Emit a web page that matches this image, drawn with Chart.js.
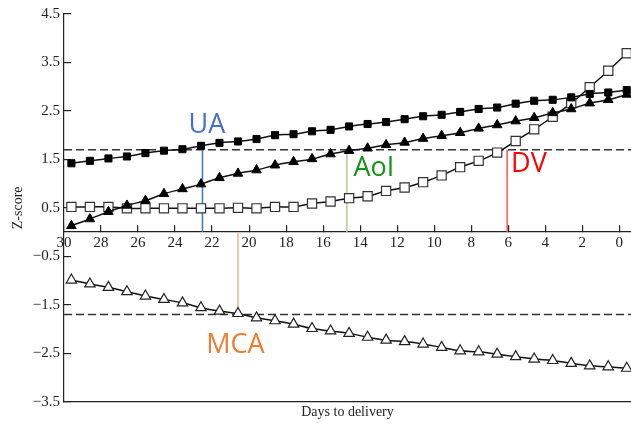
<!DOCTYPE html>
<html>
<head>
<meta charset="utf-8">
<script src="https://cdn.jsdelivr.net/npm/chart.js@4.4.1/dist/chart.umd.min.js"></script>
<style>
  body { margin: 0; background: #fff; }
  #wrap { width: 631px; height: 424px; position: relative; }
</style>
</head>
<body>
<div id="wrap"><canvas id="zchart"></canvas></div>
<script>
// days to delivery where each measurement sits
var days = [29.6, 28.6, 27.6, 26.6, 25.6, 24.6, 23.6, 22.6, 21.6, 20.6,
            19.6, 18.6, 17.6, 16.6, 15.6, 14.6, 13.6, 12.6, 11.6, 10.6,
            9.6, 8.6, 7.6, 6.6, 5.6, 4.6, 3.6, 2.6, 1.6, 0.6, -0.4];

var uaZ  = [1.42, 1.47, 1.52, 1.56, 1.63, 1.68, 1.71, 1.78, 1.84, 1.87,
            1.92, 2.00, 2.02, 2.08, 2.11, 2.18, 2.23, 2.27, 2.33, 2.39,
            2.42, 2.48, 2.54, 2.57, 2.65, 2.71, 2.73, 2.78, 2.85, 2.88, 2.93];
var aoiZ = [0.13, 0.27, 0.42, 0.55, 0.65, 0.79, 0.89, 0.99, 1.12, 1.21,
            1.28, 1.38, 1.45, 1.51, 1.61, 1.68, 1.73, 1.80, 1.85, 1.93,
            1.99, 2.05, 2.14, 2.21, 2.29, 2.36, 2.46, 2.54, 2.66, 2.73, 2.84];
var dvZ  = [0.52, 0.52, 0.52, 0.49, 0.49, 0.49, 0.49, 0.49, 0.49, 0.50,
            0.49, 0.52, 0.52, 0.59, 0.63, 0.70, 0.74, 0.85, 0.92, 1.03,
            1.17, 1.34, 1.47, 1.64, 1.88, 2.12, 2.38, 2.66, 2.99, 3.33, 3.69];
var mcaZ = [-0.99, -1.07, -1.14, -1.23, -1.32, -1.39, -1.46, -1.56, -1.63, -1.68,
            -1.77, -1.83, -1.90, -1.99, -2.04, -2.09, -2.17, -2.23, -2.26, -2.31,
            -2.38, -2.45, -2.47, -2.52, -2.57, -2.62, -2.65, -2.71, -2.76, -2.78, -2.81];

// cut-off and the day each vessel crosses it
var cutoff = 1.7;
var crossDays = { UA: 22.52, AoI: 14.72, DV: 6.06, MCA: 20.6 };

var xMax = 30, xMin = -0.63;
var yMin = -3.5, yMax = 4.5;

function pts(ys) {
  return days.map(function(d, i) { return { x: d, y: ys[i] }; });
}

function vline(day, y0, y1, col) {
  return {
    data: [{ x: day, y: y0 }, { x: day, y: y1 }], showLine: true,
    borderColor: col, borderWidth: 1.5, pointRadius: 0, order: 5, tension: 0
  };
}

// no extra edge padding for tick labels, the plot runs to the canvas edges
function noPad(s) {
  s.paddingLeft = 0; s.paddingRight = 0; s.paddingTop = 0; s.paddingBottom = 0;
}

// text labels UA / AoI / DV / MCA placed in data units
var labelPlugin = {
  id: 'vesselLabels',
  afterDatasetsDraw: function(chart) {
    var items = [
      { t: 'UA',  x: 23.27, y: 2.045, c: '#4472C4' },
      { t: 'AoI', x: 14.36, y: 1.158, c: '#169416' },
      { t: 'DV',  x: 5.85,  y: 1.246, c: '#FF0000' },
      { t: 'MCA', x: 22.32, y: -2.50, c: '#ED7D31' }
    ];
    var ctx = chart.ctx;
    ctx.save();
    ctx.font = '27px "Open Sans"';
    ctx.textAlign = 'left';
    ctx.textBaseline = 'alphabetic';
    items.forEach(function(it) {
      ctx.fillStyle = it.c;
      ctx.fillText(it.t, chart.scales.x.getPixelForValue(it.x), chart.scales.y.getPixelForValue(it.y));
    });
    ctx.restore();
  }
};

var serif = { family: '"Liberation Serif", "Times New Roman", serif', size: 15 };

new Chart(document.getElementById('zchart'), {
  type: 'scatter',
  data: {
    datasets: [
      { label: 'UA', data: pts(uaZ), showLine: true, borderColor: '#111', borderWidth: 1.5,
        tension: 0.4, pointStyle: 'rect', pointRadius: 5, pointBackgroundColor: '#000',
        pointBorderColor: '#000', pointBorderWidth: 1, order: 1 },
      { label: 'AoI', data: pts(aoiZ), showLine: true, borderColor: '#111', borderWidth: 1.5,
        tension: 0.4, pointStyle: 'triangle', pointRadius: 5.5, pointBackgroundColor: '#000',
        pointBorderColor: '#000', pointBorderWidth: 1, order: 1 },
      { label: 'DV', data: pts(dvZ), showLine: true, borderColor: '#111', borderWidth: 1.5,
        tension: 0.4, pointStyle: 'rect', pointRadius: 6.5, pointBackgroundColor: '#fff',
        pointBorderColor: '#333', pointBorderWidth: 1.2, order: 1 },
      { label: 'MCA', data: pts(mcaZ), showLine: true, borderColor: '#111', borderWidth: 1.5,
        tension: 0.4, pointStyle: 'triangle', pointRadius: 6, pointBackgroundColor: '#fff',
        pointBorderColor: '#222', pointBorderWidth: 1.2, order: 1 },
      { data: [{ x: xMax, y: cutoff }, { x: xMin, y: cutoff }], showLine: true,
        borderColor: '#333', borderWidth: 1.5, borderDash: [8, 4], pointRadius: 0, order: 6 },
      { data: [{ x: xMax, y: -cutoff }, { x: xMin, y: -cutoff }], showLine: true,
        borderColor: '#333', borderWidth: 1.5, borderDash: [8, 4], pointRadius: 0, order: 6 },
      vline(crossDays.UA, 0, cutoff, '#4472C4'),
      vline(crossDays.AoI, 0, cutoff, '#A9D18E'),
      vline(crossDays.DV, 0, cutoff, '#FF5050'),
      vline(crossDays.MCA, 0, -cutoff, '#F4B183')
    ]
  },
  options: {
    responsive: true,
    maintainAspectRatio: false,
    animation: false,
    layout: { autoPadding: false, padding: { top: 14, right: 0, left: 0, bottom: 0 } },
    plugins: { legend: { display: false }, tooltip: { enabled: false } },
    scales: {
      x: {
        type: 'linear', reverse: true, min: xMin, max: xMax,
        position: { y: 0 },
        afterFit: function(s) { s.height = 0; noPad(s); },
        grid: { drawOnChartArea: false, drawTicks: true, tickLength: -7, color: '#222', lineWidth: 1.2 },
        border: { display: true, color: '#222', width: 1.2 },
        ticks: { stepSize: 2, includeBounds: false, padding: 9, color: '#222', font: serif, maxRotation: 0 }
      },
      xb: {
        type: 'linear', axis: 'x', reverse: true, min: xMin, max: xMax,
        position: 'bottom',
        afterFit: function(s) { s.height = 22.3; noPad(s); },
        grid: { display: false },
        border: { display: true, color: '#222', width: 1.2 },
        ticks: { display: false },
        title: { display: true, text: 'Days to delivery', color: '#222',
                 font: { family: serif.family, size: 14 }, padding: { top: 0, bottom: 3 } }
      },
      y: {
        type: 'linear', min: yMin, max: yMax,
        afterFit: function(s) { s.width = 64; noPad(s); },
        grid: { drawOnChartArea: false, drawTicks: true, tickLength: -7, color: '#222', lineWidth: 1.2 },
        border: { display: true, color: '#222', width: 1.2 },
        ticks: {
          stepSize: 1, padding: 11, color: '#222', font: serif,
          callback: function(v) { return (v < 0 ? '\u2212' : '') + Math.abs(v).toFixed(1); }
        },
        title: { display: true, text: 'Z-score', color: '#222',
                 font: { family: serif.family, size: 14 }, padding: { top: 10, bottom: 0 } }
      }
    }
  },
  plugins: [labelPlugin]
});
</script>
</body>
</html>
